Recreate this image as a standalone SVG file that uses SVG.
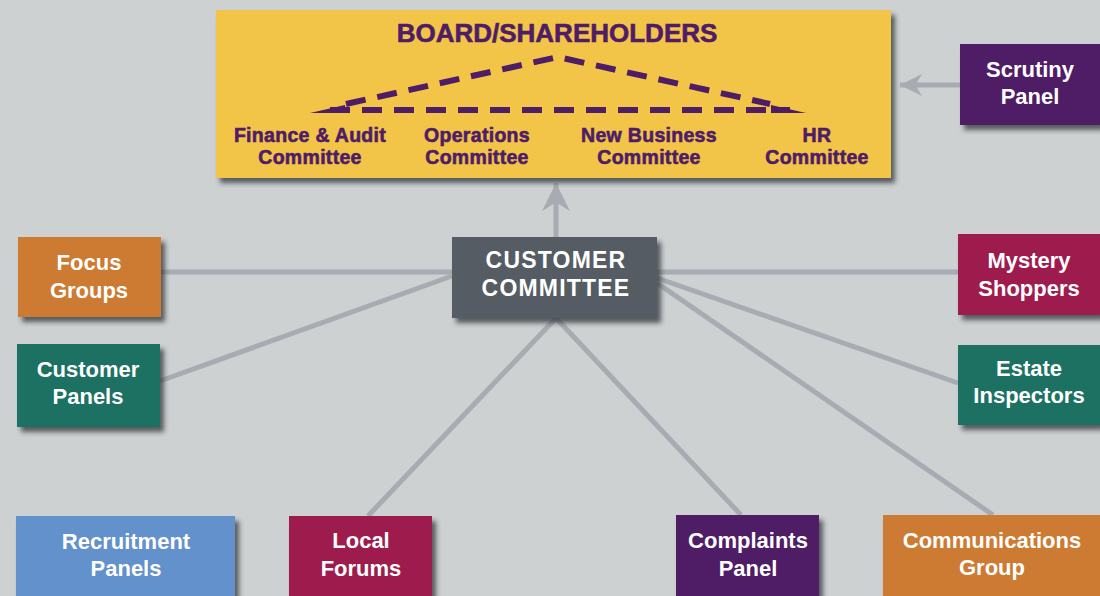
<svg xmlns="http://www.w3.org/2000/svg" width="1100" height="596" viewBox="0 0 1100 596">
  <defs>
    <filter id="shadow" x="-10%" y="-10%" width="130%" height="140%">
      <feDropShadow dx="4" dy="5" stdDeviation="2.5" flood-color="#2f3338" flood-opacity="0.75"/>
    </filter>
    <marker id="head" viewBox="0 0 10 10" refX="10" refY="5" markerWidth="22" markerHeight="22" markerUnits="userSpaceOnUse" orient="auto">
      <path d="M10,5 L0,0 L3,5 L0,10 Z" fill="#a8acb2"/>
    </marker>
    <marker id="headBig" viewBox="0 0 10 10" refX="10" refY="5" markerWidth="30" markerHeight="28" markerUnits="userSpaceOnUse" orient="auto">
      <path d="M10,5 L0,0 L3,5 L0,10 Z" fill="#a8acb2"/>
    </marker>
  </defs>
  <style>
    .bg { fill: #cdd1d2; }
    .link { stroke: #a8acb2; stroke-width: 5; fill: none; stroke-linecap: butt; }
    .box { filter: url(#shadow); }
    .lbl { font-family: "Liberation Sans", Arial, sans-serif; font-weight: bold; fill: #ffffff; font-size: 22px; text-anchor: middle; }
    .cc { font-size: 23px; letter-spacing: 1.2px; }
    .board { font-family: "Liberation Sans", Arial, sans-serif; font-weight: bold; fill: #4f1c66; stroke: #4f1c66; stroke-width: 0.6; text-anchor: middle; }
    .sub { font-size: 19.5px; letter-spacing: 0.3px; }
    .dash { stroke: #4f1c66; stroke-width: 6; fill: none; stroke-dasharray: 20 12; }
  </style>

  <rect class="bg" x="0" y="0" width="1100" height="596"/>

  <!-- connectors -->
  <g id="connectors">
    <line class="link" x1="161" y1="272" x2="452" y2="272"/>
    <line class="link" x1="160" y1="381" x2="452" y2="276"/>
    <line class="link" x1="657" y1="272" x2="958" y2="272"/>
    <line class="link" x1="657" y1="278" x2="958" y2="383"/>
    <line class="link" x1="657" y1="283" x2="993" y2="515"/>
    <line class="link" x1="368" y1="516" x2="556" y2="318"/>
    <line class="link" x1="741" y1="515" x2="556" y2="318"/>
    <line class="link" x1="556" y1="237" x2="556" y2="183" stroke-width="8" marker-end="url(#headBig)"/>
    <line class="link" x1="960" y1="85" x2="900" y2="85" stroke-width="6" marker-end="url(#head)"/>
  </g>

  <!-- board with its committees -->
  <g id="board">
    <rect class="box" x="216" y="10" width="675" height="168" fill="#f2c54a"/>
    <text class="board" x="557" y="42" font-size="26">BOARD/SHAREHOLDERS</text>
    <path class="dash" d="M346,104 L558,57 L770,104"/>
    <line class="dash" x1="330" y1="110" x2="790" y2="110"/>
    <polygon points="310,113 345,105 345,113" fill="#4f1c66"/>
    <polygon points="806,113 771,105 771,113" fill="#4f1c66"/>
    <text class="board sub"><tspan x="310" y="142">Finance &amp; Audit</tspan><tspan x="310" y="164">Committee</tspan></text>
    <text class="board sub"><tspan x="477" y="142">Operations</tspan><tspan x="477" y="164">Committee</tspan></text>
    <text class="board sub"><tspan x="649" y="142">New Business</tspan><tspan x="649" y="164">Committee</tspan></text>
    <text class="board sub"><tspan x="817" y="142">HR</tspan><tspan x="817" y="164">Committee</tspan></text>
  </g>

  <g id="scrutiny-panel">
    <rect class="box" x="960" y="44" width="140" height="81" fill="#4f1c66"/>
    <text class="lbl"><tspan x="1030" y="77">Scrutiny</tspan><tspan x="1030" y="104">Panel</tspan></text>
  </g>

  <g id="customer-committee">
    <rect class="box" x="452" y="237" width="205" height="81" fill="#575b64"/>
    <text class="lbl cc"><tspan x="556" y="268">CUSTOMER</tspan><tspan x="556" y="296">COMMITTEE</tspan></text>
  </g>

  <g id="focus-groups">
    <rect class="box" x="18" y="237" width="143" height="80" fill="#cd7a30"/>
    <text class="lbl"><tspan x="89" y="270">Focus</tspan><tspan x="89" y="298">Groups</tspan></text>
  </g>

  <g id="customer-panels">
    <rect class="box" x="17" y="344" width="143" height="83" fill="#1a7162"/>
    <text class="lbl"><tspan x="88" y="377">Customer</tspan><tspan x="88" y="404">Panels</tspan></text>
  </g>

  <g id="mystery-shoppers">
    <rect class="box" x="958" y="234" width="142" height="81" fill="#9e1a4e"/>
    <text class="lbl"><tspan x="1029" y="268">Mystery</tspan><tspan x="1029" y="296">Shoppers</tspan></text>
  </g>

  <g id="estate-inspectors">
    <rect class="box" x="958" y="345" width="142" height="80" fill="#1a7162"/>
    <text class="lbl"><tspan x="1029" y="376">Estate</tspan><tspan x="1029" y="403">Inspectors</tspan></text>
  </g>

  <g id="recruitment-panels">
    <rect class="box" x="16" y="516" width="219" height="85" fill="#6391cb"/>
    <text class="lbl"><tspan x="126" y="549">Recruitment</tspan><tspan x="126" y="576">Panels</tspan></text>
  </g>

  <g id="local-forums">
    <rect class="box" x="289" y="516" width="143" height="85" fill="#9e1a4e"/>
    <text class="lbl"><tspan x="361" y="548">Local</tspan><tspan x="361" y="576">Forums</tspan></text>
  </g>

  <g id="complaints-panel">
    <rect class="box" x="676" y="515" width="143" height="86" fill="#4f1c66"/>
    <text class="lbl"><tspan x="748" y="548">Complaints</tspan><tspan x="748" y="576">Panel</tspan></text>
  </g>

  <g id="communications-group">
    <rect class="box" x="883" y="515" width="217" height="86" fill="#cd7a30"/>
    <text class="lbl"><tspan x="992" y="548">Communications</tspan><tspan x="992" y="575">Group</tspan></text>
  </g>
</svg>
